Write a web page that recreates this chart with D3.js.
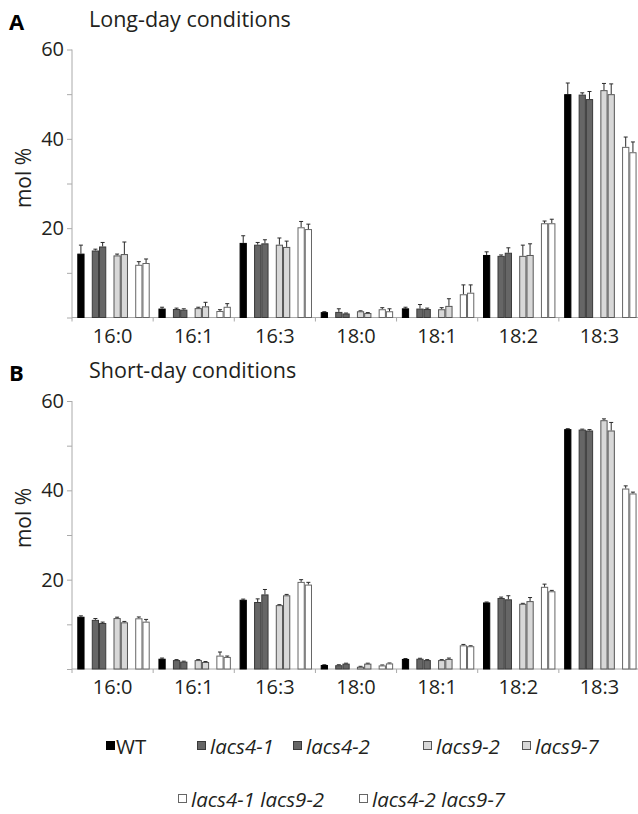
<!DOCTYPE html>
<html>
<head>
<meta charset="utf-8">
<script src="https://cdn.jsdelivr.net/npm/d3@7"></script>
<style>
  html, body { margin: 0; padding: 0; background: #fff; }
  svg { display: block; font-family: "Open Sans", "Noto Sans", sans-serif; }
</style>
</head>
<body>
<script>
/***********************************************************************************/
// Data

var categories = ["16:0", "16:1", "16:3", "18:0", "18:1", "18:2", "18:3"];
var genotypes = ["WT", "lacs4-1", "lacs4-2", "lacs9-2", "lacs9-7", "lacs4-1 lacs9-2", "lacs4-2 lacs9-7"];
var yTicks = [0, 10, 20, 30, 40, 50, 60];
var yTickLabels = ["", "", "20", "", "40", "", "60"];

// rows = fatty acid, columns = genotype (same order as genotypes)
var longDayMeans = [
  [14.3, 15.0, 15.9, 13.9, 14.2, 11.8, 12.2],
  [2.0, 1.9, 1.75, 2.1, 2.5, 1.45, 2.4],
  [16.7, 16.3, 16.6, 16.3, 15.8, 20.2, 19.8],
  [1.2, 1.25, 0.9, 1.4, 1.0, 1.85, 1.4],
  [2.05, 2.0, 1.9, 1.85, 2.6, 5.2, 5.55],
  [14.0, 13.8, 14.5, 13.8, 14.0, 21.1, 21.1],
  [50.0, 49.9, 48.9, 50.9, 50.0, 38.2, 37.0]
];
var longDayErrors = [
  [1.9, 0.3, 0.9, 0.3, 2.7, 0.7, 0.9],
  [0.3, 0.2, 0.2, 0.2, 0.9, 0.3, 0.7],
  [1.6, 0.5, 0.8, 1.5, 1.3, 1.3, 1.1],
  [0.1, 0.7, 0.1, 0.1, 0.1, 0.35, 0.55],
  [0.25, 0.9, 0.2, 0.35, 1.6, 2.1, 1.75],
  [0.7, 0.2, 1.1, 2.4, 2.5, 0.5, 0.9],
  [2.5, 0.4, 1.7, 1.5, 2.3, 2.2, 2.3]
];
var shortDayMeans = [
  [11.7, 11.0, 10.3, 11.4, 10.45, 11.35, 10.6],
  [2.3, 2.0, 1.65, 2.0, 1.57, 3.0, 2.7],
  [15.5, 15.0, 16.7, 14.3, 16.5, 19.5, 18.9],
  [0.9, 0.85, 1.2, 0.5, 1.2, 0.8, 1.25],
  [2.25, 2.3, 2.0, 2.0, 2.25, 5.3, 5.1],
  [14.9, 15.9, 15.6, 14.6, 15.2, 18.4, 17.4],
  [53.7, 53.6, 53.4, 55.7, 53.4, 40.4, 39.3]
];
var shortDayErrors = [
  [0.2, 0.3, 0.2, 0.2, 0.2, 0.3, 0.5],
  [0.15, 0.1, 0.1, 0.1, 0.1, 0.8, 0.2],
  [0.15, 0.7, 1.1, 0.1, 0.2, 0.5, 0.5],
  [0.05, 0.1, 0.1, 0.1, 0.1, 0.1, 0.1],
  [0.1, 0.1, 0.1, 0.1, 0.2, 0.2, 0.1],
  [0.1, 0.2, 0.8, 0.1, 0.8, 0.6, 0.2],
  [0.1, 0.1, 0.2, 0.3, 1.8, 0.6, 0.3]
];

/***********************************************************************************/
// Styles

var fills   = ["#000000", "#666666", "#666666", "#d8d8d8", "#d8d8d8", "#ffffff", "#ffffff"];
var strokes = ["#000000", "#3a3a3a", "#3a3a3a", "#555555", "#555555", "#666666", "#666666"];
var slots = [0, 2, 3, 5, 6, 8, 9];   // position of each genotype inside a group
var textColor = "#231f20";
var axisColor = "#aaaaaa";

var svg = d3.select("body").append("svg").attr("width", 638).attr("height", 814);

/***********************************************************************************/
// Panel

function drawPanel(opts){
  var g = svg.append("g");

  var x = d3.scaleBand().domain(categories).range([72, 640]);
  var xInner = d3.scaleLinear().domain([0, 10]).range([5.3, 5.3 + 72.4]);
  var barW = xInner(1) - xInner(0);
  var y = d3.scaleLinear().domain([0, 60]).range([opts.y0, opts.y0 - 268]);

  // panel letter + title
  g.append("text").attr("x", 9).attr("y", opts.y0 - 288)
    .attr("font-size", 22).attr("font-weight", "bold").attr("fill", "#000").text(opts.letter);
  g.append("text").attr("x", 89).attr("y", opts.y0 - 291)
    .attr("font-size", 21.5).attr("fill", textColor).text(opts.title);

  // y axis
  var yAxis = d3.axisLeft(y).tickValues(yTicks).tickSize(5)
    .tickFormat(function(d, i){ return yTickLabels[i]; });
  var ya = g.append("g").attr("transform", "translate(72,0)").call(yAxis);
  ya.select(".domain").attr("stroke", axisColor).attr("d", "M0," + y(60) + "V" + y(0));
  ya.selectAll(".tick line").attr("stroke", axisColor);
  ya.selectAll(".tick text").attr("font-size", 20).attr("fill", textColor)
    .attr("font-family", "Open Sans, sans-serif").attr("x", -8);

  g.append("text")
    .attr("transform", "translate(31," + opts.labelY + ") rotate(-90)")
    .attr("text-anchor", "middle").attr("font-size", 21).attr("fill", textColor).text("mol %");

  // x axis
  g.append("line").attr("x1", 72).attr("x2", 640).attr("y1", y(0)).attr("y2", y(0))
    .attr("stroke", axisColor);
  g.selectAll(".xtick").data(categories).enter().append("line")
    .attr("x1", function(d){ return x(d); }).attr("x2", function(d){ return x(d); })
    .attr("y1", y(0)).attr("y2", y(0) + 4).attr("stroke", axisColor);
  g.selectAll(".xlab").data(categories).enter().append("text")
    .attr("x", function(d){ return x(d) + x.bandwidth() / 2; })
    .attr("y", y(0) + 25).attr("text-anchor", "middle")
    .attr("font-size", 20).attr("fill", textColor).text(function(d){ return d; });

  // bars
  var rows = [];
  categories.forEach(function(c, ci){
    genotypes.forEach(function(gt, gi){
      rows.push({ cat: c, gi: gi, v: opts.means[ci][gi], e: opts.errors[ci][gi] });
    });
  });

  var bars = g.selectAll(".bar").data(rows).enter().append("g");
  bars.append("path")
    .attr("d", function(d){
      var bx = x(d.cat) + xInner(slots[d.gi]);
      var cx = bx + barW / 2;
      return "M" + cx + "," + y(d.v) + "V" + y(d.v + d.e) + "M" + (cx - 2) + "," + y(d.v + d.e) + "H" + (cx + 2);
    })
    .attr("stroke", "#2a2a2a").attr("stroke-width", 1).attr("fill", "none");
  bars.append("rect")
    .attr("x", function(d){ return x(d.cat) + xInner(slots[d.gi]) + 0.5; })
    .attr("y", function(d){ return y(d.v) + 0.5; })
    .attr("width", barW - 1)
    .attr("height", function(d){ return Math.max(0, y(0) - y(d.v) - 0.5); })
    .attr("fill", function(d){ return fills[d.gi]; })
    .attr("stroke", function(d){ return strokes[d.gi]; })
    .attr("stroke-width", 1);
}

drawPanel({ letter: "A", title: "Long-day conditions", y0: 317.5, labelY: 178,
            means: longDayMeans, errors: longDayErrors });
drawPanel({ letter: "B", title: "Short-day conditions", y0: 669, labelY: 518,
            means: shortDayMeans, errors: shortDayErrors });

/***********************************************************************************/
// Legend

var legendX = [106, 197, 293, 423, 522, 178, 359];
var legendY = [754, 754, 754, 754, 754, 807, 807];

var leg = svg.append("g").selectAll("g").data(genotypes).enter().append("g")
  .attr("transform", function(d, i){ return "translate(" + legendX[i] + "," + legendY[i] + ")"; });
leg.append("rect").attr("x", 0.5).attr("y", -12.5).attr("width", 8).attr("height", 8)
  .attr("fill", function(d, i){ return fills[i]; })
  .attr("stroke", function(d, i){ return strokes[i]; });
leg.append("text").attr("x", function(d, i){ return i === 0 ? 10 : 13; }).attr("y", 0)
  .attr("font-size", 20.5).attr("fill", textColor)
  .attr("font-style", function(d, i){ return i === 0 ? "normal" : "italic"; })
  .text(function(d){ return d; });
</script>
</body>
</html>
